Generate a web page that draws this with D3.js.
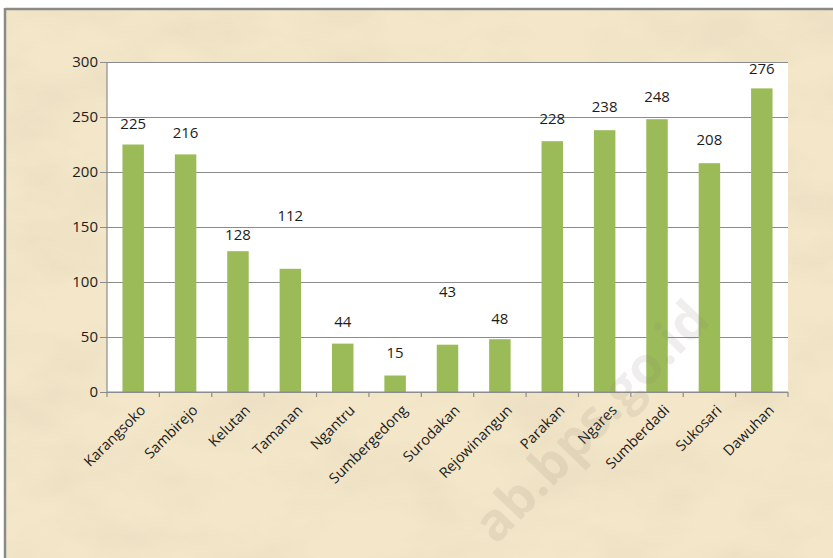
<!DOCTYPE html>
<html>
  <head>
    <meta charset="utf-8">
    <title>Village chart</title>
    <script src="https://d3js.org/d3.v7.min.js"></script>
    <style>
      body { margin: 0; background: #fff; }
      svg text { font-family: "Open Sans", sans-serif; fill: #1c1c1c; }
    </style>
  </head>
  <body>
    <svg id="chart" width="833" height="558"></svg>
    <script>
      // data
      var villages = ["Karangsoko", "Sambirejo", "Kelutan", "Tamanan", "Ngantru", "Sumbergedong",
        "Surodakan", "Rejowinangun", "Parakan", "Ngares", "Sumberdadi", "Sukosari", "Dawuhan"];
      var counts = [225, 216, 128, 112, 44, 15, 43, 48, 228, 238, 248, 208, 276];
      // where each value label sits, in axis units (some were dragged in the original)
      var labelAt = [244, 236, 143, 160, 64, 36, 91, 67, 248, 259, 268, 229, 294];
      var yTicks = [0, 50, 100, 150, 200, 250, 300];

      var svg = d3.select("#chart");
      var W = 833, H = 558;
      var margin = { top: 62, right: 45, bottom: 166, left: 107 };

      // parchment background
      var defs = svg.append("defs");
      var f = defs.append("filter").attr("id", "paper")
        .attr("x", 0).attr("y", 0).attr("width", "100%").attr("height", "100%");
      f.append("feTurbulence").attr("type", "fractalNoise")
        .attr("baseFrequency", "0.01 0.018").attr("numOctaves", 5).attr("seed", 7).attr("result", "n");
      f.append("feColorMatrix").attr("in", "n").attr("type", "matrix")
        .attr("values", "0 0 0 0 0.82  0 0 0 0 0.71  0 0 0 0 0.52  1.6 0 0 0 -0.68")
        .attr("result", "tint");
      f.append("feComposite").attr("in", "tint").attr("in2", "SourceGraphic").attr("operator", "in")
        .attr("result", "spots");
      f.append("feMerge").selectAll("feMergeNode")
        .data(["SourceGraphic", "spots"]).enter().append("feMergeNode").attr("in", function(d) { return d; });

      svg.append("rect").attr("x", 6).attr("y", 9).attr("width", W - 6).attr("height", H - 9)
        .attr("fill", "#f3e6c9");
      svg.append("rect").attr("x", 6).attr("y", 9).attr("width", W - 6).attr("height", H - 9)
        .attr("fill", "#f3e6c9").attr("filter", "url(#paper)").attr("opacity", 0.85);
      svg.append("line").attr("x1", 5).attr("x2", W).attr("y1", 9).attr("y2", 9)
        .attr("stroke", "#8a8a86").attr("stroke-width", 2.5);
      svg.append("line").attr("x1", 5).attr("x2", 5).attr("y1", 8).attr("y2", H)
        .attr("stroke", "#8a8a86").attr("stroke-width", 2.5);

      // scales
      var x = d3.scaleBand().domain(villages)
        .range([margin.left, W - margin.right]).paddingInner(0.59).paddingOuter(0.295);
      var xb = d3.scaleBand().domain(villages).range([margin.left, W - margin.right]);
      var y = d3.scaleLinear().domain([0, 300]).range([H - margin.bottom, margin.top]);

      // plot area
      svg.append("rect").attr("x", margin.left).attr("y", y(300))
        .attr("width", W - margin.right - margin.left).attr("height", y(0) - y(300))
        .attr("fill", "#fff");

      var yAxis = d3.axisLeft(y).tickValues(yTicks)
        .tickSize(-(W - margin.right - margin.left + 7)).tickPadding(9);
      var gy = svg.append("g").attr("transform", "translate(" + (margin.left - 7) + ",0)").call(yAxis);
      gy.select(".domain").remove();
      gy.selectAll(".tick line").attr("stroke", "#8c8c8c").attr("stroke-width", 1.2);
      gy.selectAll(".tick text").attr("font-size", 15).attr("x", -2).style("fill", "#1c1c1c");

      svg.append("line").attr("x1", margin.left).attr("x2", margin.left)
        .attr("y1", y(300)).attr("y2", y(0)).attr("stroke", "#8c8c8c").attr("stroke-width", 1.2);

      // bars
      svg.append("g").selectAll("rect").data(counts).enter().append("rect")
        .attr("x", function(d, i) { return x(villages[i]); })
        .attr("y", function(d) { return y(d); })
        .attr("width", x.bandwidth())
        .attr("height", function(d) { return y(0) - y(d); })
        .attr("fill", "#9bbb59");

      // value labels
      svg.append("g").selectAll("text").data(counts).enter().append("text")
        .attr("x", function(d, i) { return x(villages[i]) + x.bandwidth() / 2; })
        .attr("y", function(d, i) { return y(labelAt[i]); })
        .attr("dy", "0.35em").attr("text-anchor", "middle").attr("font-size", 15)
        .text(function(d) { return d; });

      // x axis: ticks between categories
      var gx = svg.append("g").attr("transform", "translate(0," + y(0) + ")");
      gx.append("line").attr("x1", margin.left).attr("x2", W - margin.right)
        .attr("stroke", "#8c8c8c").attr("stroke-width", 1.2);
      gx.selectAll(".sep").data(villages.concat(["end"])).enter().append("line")
        .attr("x1", function(d, i) { return i < villages.length ? xb(d) : W - margin.right; })
        .attr("x2", function(d, i) { return i < villages.length ? xb(d) : W - margin.right; })
        .attr("y1", 0).attr("y2", 5).attr("stroke", "#8c8c8c").attr("stroke-width", 1.2);
      gx.selectAll(".lbl").data(villages).enter().append("text")
        .attr("transform", function(d) {
          return "translate(" + (xb(d) + xb.bandwidth() / 2 + 6) + ",12) rotate(-45)";
        })
        .attr("text-anchor", "end").attr("dy", "0.7em").attr("font-size", 14.5)
        .text(function(d) { return d; });

      // faint watermark
      svg.append("text")
        .attr("transform", "translate(712,322) rotate(-46)")
        .attr("text-anchor", "end").attr("font-size", 52).attr("font-weight", "bold")
        .style("fill", "#8a8070").attr("opacity", 0.13)
        .text("ab.bps.go.id");
    </script>
  </body>
</html>
